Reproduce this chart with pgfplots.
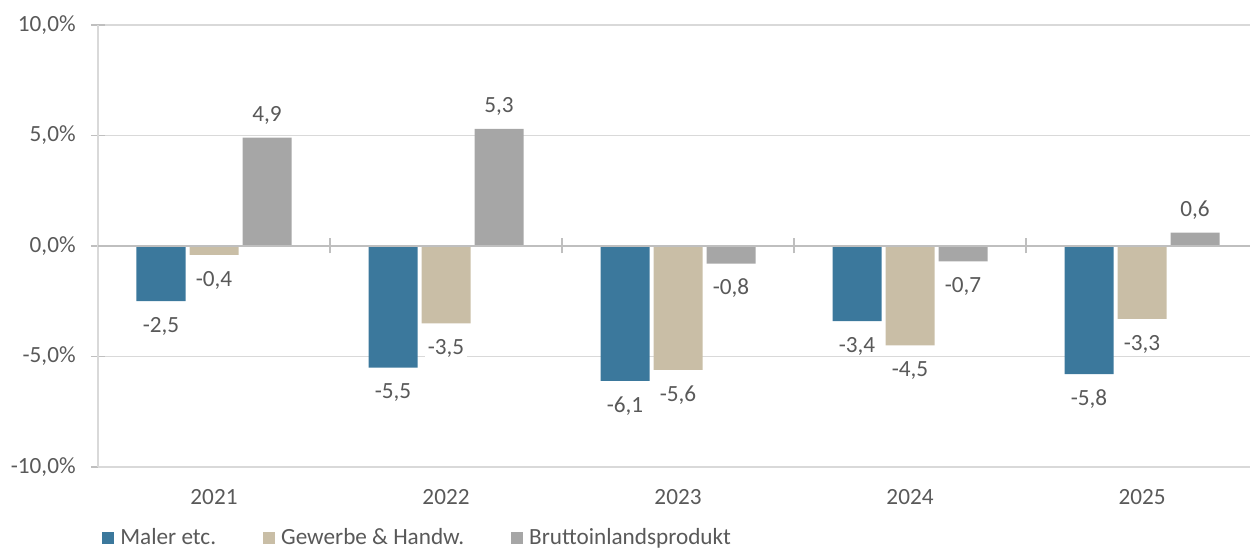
\documentclass[border=0pt]{standalone}
\usepackage{fontspec}
\setmainfont{Carlito}
\usepackage{pgfplots}
\usepackage{pgfplotstable}
\pgfplotsset{compat=1.18}
\definecolor{cblue}{HTML}{3B789C}
\definecolor{cbeige}{HTML}{C9BEA6}
\definecolor{cgray}{HTML}{A6A6A6}
\definecolor{gridc}{HTML}{D9D9D9}
\definecolor{zeroc}{HTML}{BFBFBF}
\definecolor{txt}{HTML}{595959}
\pgfplotstableread{
x m ml mo g gl go b bl bo
0 -2.5 -2,5 -12 -0.4 -0,4 -12 4.9 4,9 11.8
1 -5.5 -5,5 -12 -3.5 -3,5 -12 5.3 5,3 11.8
2 -6.1 -6,1 -12 -5.6 -5,6 -12 -0.8 -0,8 -12
3 -3.4 -3,4 -12 -4.5 -4,5 -12 -0.7 -0,7 -12
4 -5.8 -5,8 -12 -3.3 -3,3 -12 0.6 0,6 11.8
}\data
\begin{document}
\begin{tikzpicture}[font=\fontsize{11.6}{13.9}\selectfont, text=txt]
\begin{axis}[
  at={(0,0)}, anchor=south west,
  scale only axis, width=576pt, height=221pt,
  xmin=-0.5, xmax=4.4655, ymin=-10, ymax=10,
  axis lines*=left,
  axis line style={draw=gridc, line width=1pt, -},
  ymajorgrids, grid style={draw=gridc, line width=0.75pt},
  ytick={-10,-5,0,5,10},
  yticklabels={-10{,}0\%,-5{,}0\%,0{,}0\%,5{,}0\%,10{,}0\%},
  yticklabel style={inner sep=0pt, anchor=east, xshift=-7.5pt, text=txt},
  ytick style={draw=zeroc, line width=0.75pt},
  major tick length=7pt,
  tick align=center,
  xtick={0,1,2,3,4},
  xticklabels={2021,2022,2023,2024,2025},
  xtick style={draw=none},
  xticklabel style={inner sep=0pt, anchor=north, yshift=-3.8pt, text=txt},
  ybar=2pt, bar width=24.5pt,
  nodes near coords={\pgfplotspointmeta},
  point meta=explicit symbolic,
  every node near coord/.append style={inner xsep=1.5pt, inner ysep=2pt, fill=white, text depth=0pt, text height=7.3pt, text=txt, anchor=center, yshift=\myoff pt},
  legend style={at={(axis description cs:0,0)}, anchor=west, xshift=2pt, yshift=-35.3pt,
    draw=none, inner sep=0pt, fill=none,
    nodes={inner sep=0pt, anchor=west, text=txt},
    /tikz/every odd column/.append style={column sep=3pt},
    /tikz/every even column/.append style={column sep=23.5pt}},
  legend columns=3,
  legend image code/.code={\fill[#1] (0pt,-3pt) rectangle (6pt,3pt);},
]
\addplot[fill=cblue, draw=none, visualization depends on={\thisrow{mo} \as \myoff}] table[x=x, y=m, meta=ml] {\data};
\addlegendentry{Maler etc.}
\addplot[fill=cbeige, draw=none, visualization depends on={\thisrow{go} \as \myoff}] table[x=x, y=g, meta=gl] {\data};
\addlegendentry{Gewerbe \& Handw.}
\addplot[fill=cgray, draw=none, visualization depends on={\thisrow{bo} \as \myoff}] table[x=x, y=b, meta=bl] {\data};
\addlegendentry{Bruttoinlandsprodukt}
\end{axis}
\begin{axis}[
  at={(0,0)}, anchor=south west,
  scale only axis, width=576pt, height=221pt,
  xmin=-0.5, xmax=4.4655, ymin=-10, ymax=10,
  axis x line=middle, axis y line=none,
  x axis line style={draw=zeroc, line width=1pt, -},
  xtick={0.5,1.5,2.5,3.5}, xticklabels={},
  xtick style={draw=zeroc, line width=1pt},
  major tick length=7.5pt, tick align=center,
  ytick=\empty,
]
\addplot[draw=none, forget plot] coordinates {(0,0)};
\end{axis}
\pgfresetboundingbox
\path (-49pt,-41pt) rectangle (576.5pt,233.5pt);
\end{tikzpicture}
\end{document}
